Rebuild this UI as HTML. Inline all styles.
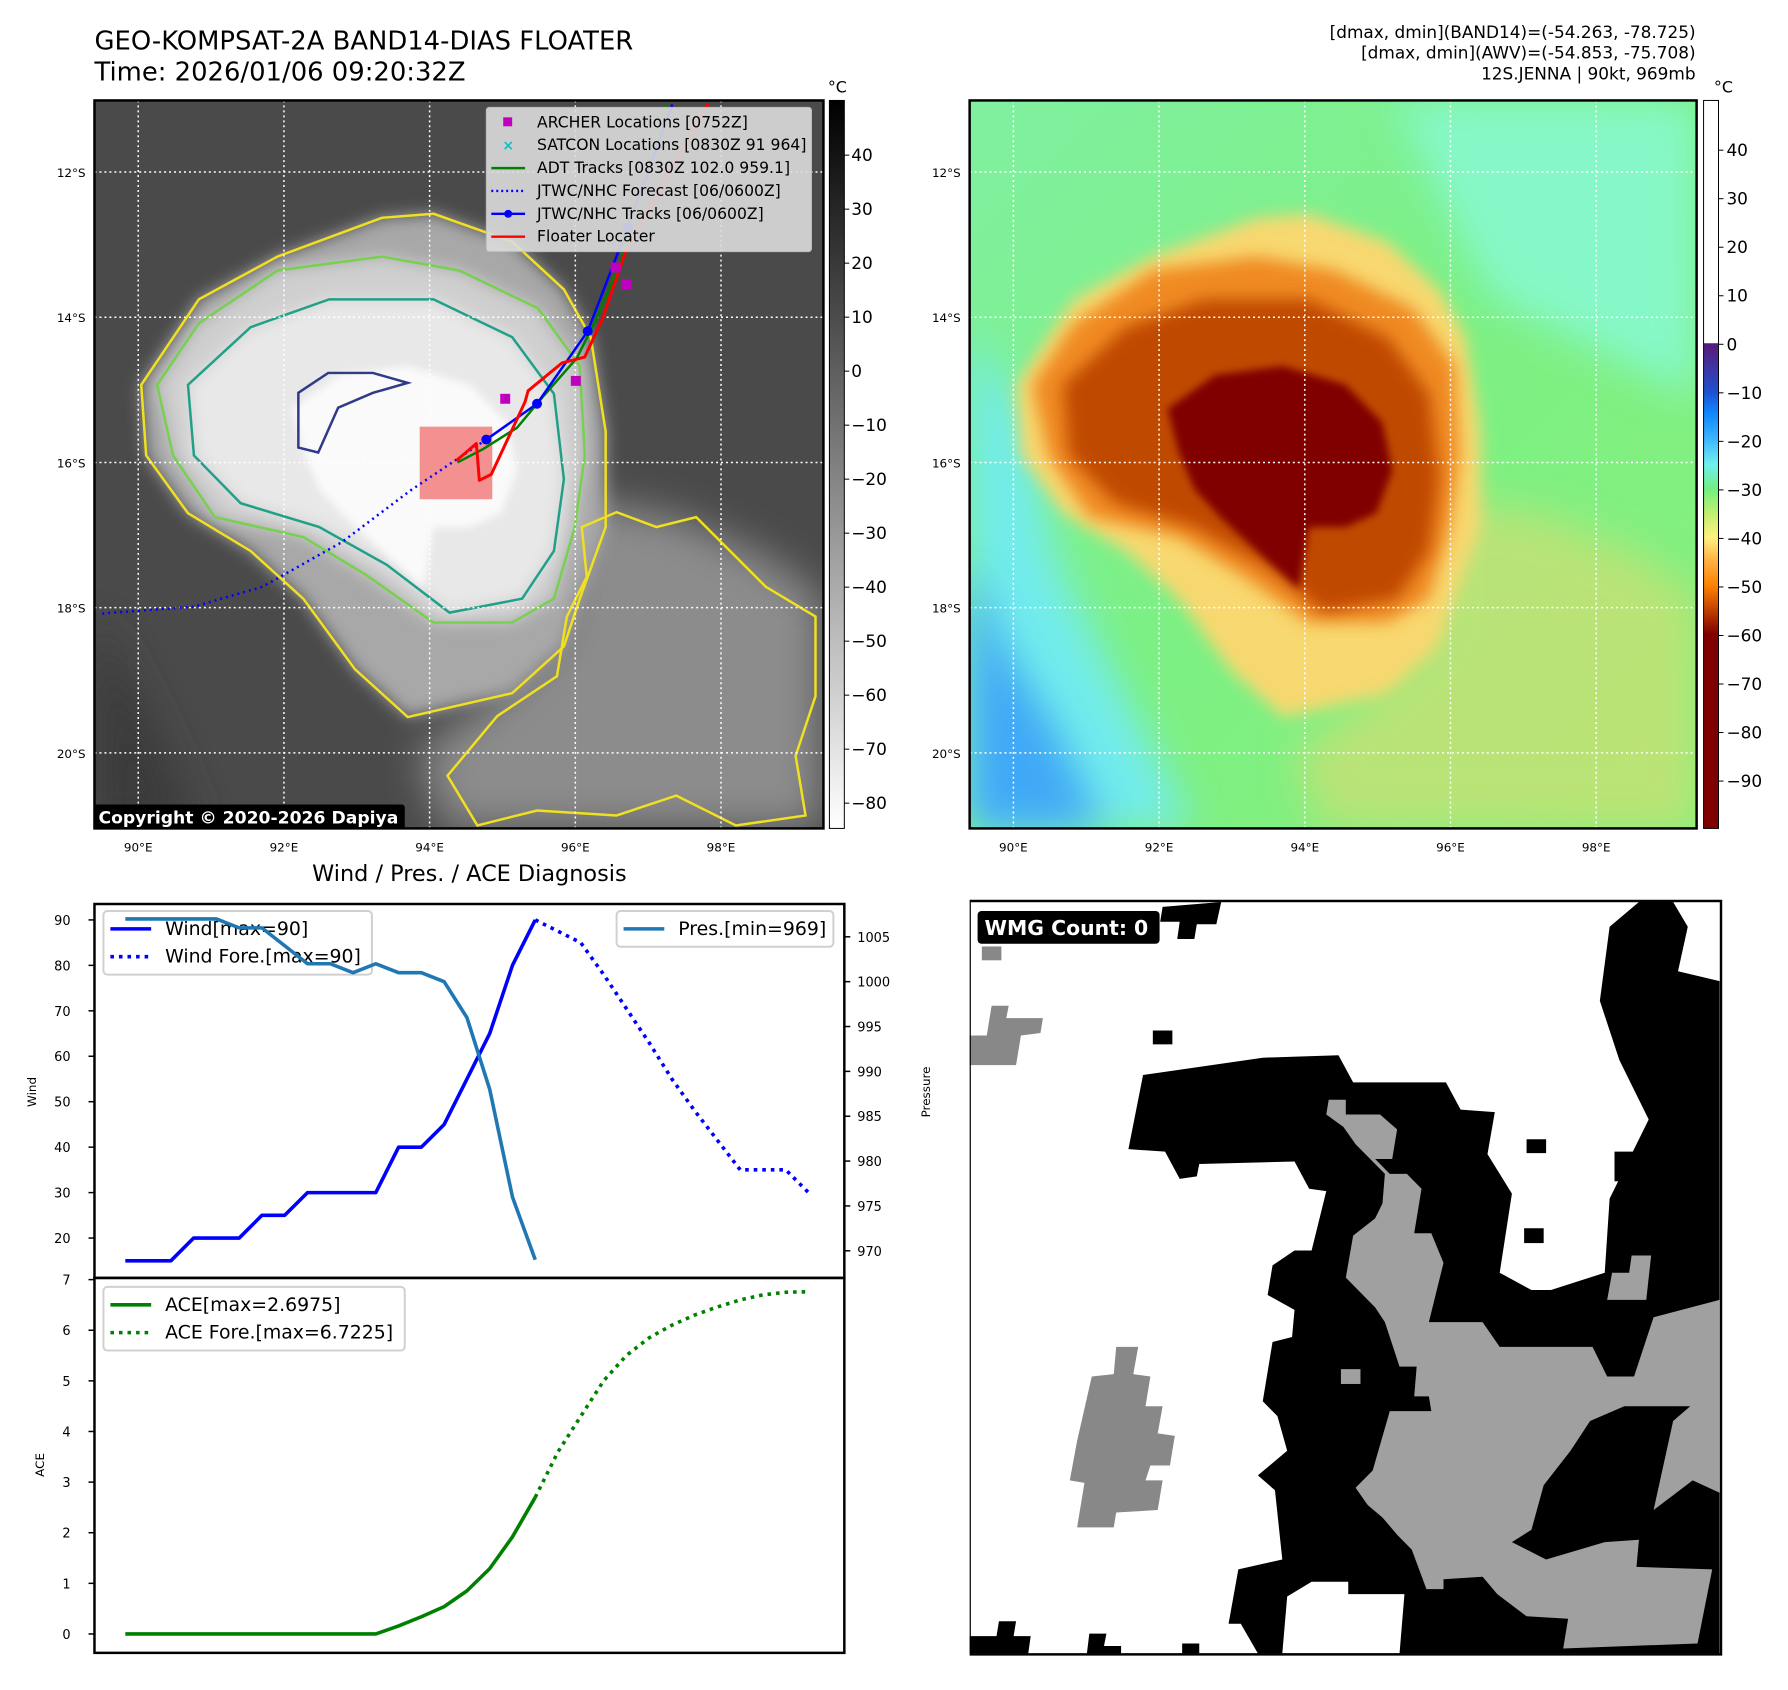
<!DOCTYPE html>
<html><head><meta charset="utf-8">
<style>
html,body{margin:0;padding:0;background:#fff;}
svg{display:block;font-family:"DejaVu Sans","Liberation Sans",sans-serif;}
</style></head>
<body>
<svg width="1788" height="1690" viewBox="0 0 1788 1690" xmlns="http://www.w3.org/2000/svg">
<defs>
  <filter id="blur8" x="-20%" y="-20%" width="140%" height="140%"><feGaussianBlur stdDeviation="8"/></filter>
  <filter id="blur4" x="-20%" y="-20%" width="140%" height="140%"><feGaussianBlur stdDeviation="4"/></filter>
  <filter id="blur20" x="-30%" y="-30%" width="160%" height="160%"><feGaussianBlur stdDeviation="20"/></filter>
  <clipPath id="clipL"><rect x="95" y="101" width="733" height="732"/></clipPath>
  <clipPath id="clipR"><rect x="975" y="101" width="731" height="732"/></clipPath>
  <linearGradient id="cbGray" x1="0" y1="0" x2="0" y2="1">
    <stop offset="0" stop-color="#000"/><stop offset="1" stop-color="#fff"/>
  </linearGradient>
  <linearGradient id="cbColor" x1="0" y1="0" x2="0" y2="1">
    <stop offset="0" stop-color="#ffffff"/>
    <stop offset="0.333" stop-color="#ffffff"/>
    <stop offset="0.334" stop-color="#5a1a78"/>
    <stop offset="0.40" stop-color="#2050d0"/>
    <stop offset="0.43" stop-color="#1088ff"/>
    <stop offset="0.467" stop-color="#40b8ff"/>
    <stop offset="0.50" stop-color="#70f0f0"/>
    <stop offset="0.533" stop-color="#70f080"/>
    <stop offset="0.567" stop-color="#c0f070"/>
    <stop offset="0.60" stop-color="#fff080"/>
    <stop offset="0.633" stop-color="#ffb040"/>
    <stop offset="0.667" stop-color="#ff8000"/>
    <stop offset="0.70" stop-color="#c04000"/>
    <stop offset="0.733" stop-color="#800000"/>
    <stop offset="1" stop-color="#800000"/>
  </linearGradient>
  <linearGradient id="bgR" x1="0" y1="0" x2="1" y2="1">
    <stop offset="0" stop-color="#80f0a0"/><stop offset="0.5" stop-color="#7cf084"/><stop offset="1" stop-color="#88f07c"/>
  </linearGradient>
</defs>
<g id="root" transform="scale(0.9945)">

<text x="95" y="50" font-size="26" fill="#000">GEO-KOMPSAT-2A BAND14-DIAS FLOATER</text>
<text x="95" y="81" font-size="26" fill="#000">Time: 2026/01/06 09:20:32Z</text>
<g font-size="17" text-anchor="end" fill="#000">
  <text x="1705" y="38">[dmax, dmin](BAND14)=(-54.263, -78.725)</text>
  <text x="1705" y="59">[dmax, dmin](AWV)=(-54.853, -75.708)</text>
  <text x="1705" y="80">12S.JENNA | 90kt, 969mb</text>
</g>

<g id="mapL" clip-path="url(#clipL)">
  <rect x="95" y="101" width="733" height="732" fill="#4a4a4a"/>
</g>
<rect x="95" y="101" width="733" height="732" fill="none" stroke="#000" stroke-width="2.5"/>
<rect x="834" y="101" width="15" height="732" fill="url(#cbGray)" stroke="#000" stroke-width="1"/>
<text x="842" y="93" font-size="16" text-anchor="middle">°C</text>
<g id="cbLticks" font-size="17"></g>

<g id="mapR" clip-path="url(#clipR)">
  <rect x="975" y="101" width="731" height="732" fill="url(#bgR)"/>
</g>
<rect x="975" y="101" width="731" height="732" fill="none" stroke="#000" stroke-width="2.5"/>
<rect x="1713" y="101" width="15" height="732" fill="url(#cbColor)" stroke="#000" stroke-width="1"/>
<text x="1733" y="93" font-size="16" text-anchor="middle">°C</text>
<g id="cbRticks" font-size="17"></g>

<text x="472" y="886" font-size="22.5" text-anchor="middle">Wind / Pres. / ACE Diagnosis</text>
<g id="chart"></g>

<g id="wmg">
 <svg x="975" y="902" width="757" height="766" viewBox="0 0 1541 1541" preserveAspectRatio="none">
  <rect x="0" y="8" width="1538" height="1524" fill="#fff"/>
  <polygon fill="#000" points="355,360 600,325 755,320 785,375 975,375 1005,430 1075,435 1060,520 1110,600 1085,760 1150,795 1190,795 1300,760 1310,610 1390,450 1330,330 1290,210 1310,60 1370,10 1440,10 1470,60 1450,150 1535,170 1535,1530 590,1530 555,1470 530,1470 550,1360 640,1340 625,1200 590,1170 650,1120 630,1050 600,1020 620,900 660,890 665,835 610,805 620,745 665,715 700,715 730,595 695,590 665,535 470,540 465,565 430,570 400,515 325,510"/>
  <polygon fill="#000" points="395,20 515,10 505,55 465,55 460,85 425,85 430,50 390,50"/>
  <rect x="1200" y="398" width="40" height="28" fill="#fff"/>
  <rect x="1140" y="490" width="40" height="28" fill="#000"/>
  <rect x="1320" y="515" width="45" height="60" fill="#000"/>
  <rect x="1135" y="670" width="40" height="30" fill="#000"/>
  <rect x="375" y="270" width="40" height="28" fill="#000"/>
  <polygon fill="#fff" points="650,1415 700,1385 775,1385 775,1410 890,1410 880,1530 640,1530"/>
  <polygon fill="#000" points="0,1495 55,1495 60,1465 95,1465 90,1495 125,1495 120,1530 0,1530"/>
  <polygon fill="#000" points="245,1490 280,1490 275,1515 310,1515 310,1530 240,1530"/>
  <rect x="435" y="1510" width="35" height="20" fill="#000"/>
  <polygon fill="#a0a0a0" points="735,410 770,410 770,440 840,440 875,470 865,530 830,530 860,560 895,560 925,590 910,680 945,680 970,740 940,860 975,860 1050,860 1085,910 1275,910 1305,970 1360,970 1400,850 1535,815 1535,1205 1480,1180 1440,1210 1400,1240 1440,1060 1475,1030 1340,1030 1270,1060 1230,1120 1175,1190 1150,1280 1110,1305 1180,1340 1300,1305 1370,1300 1365,1355 1520,1360 1490,1510 1215,1520 1225,1460 1140,1455 1080,1410 1050,1375 970,1380 970,1400 935,1400 905,1320 875,1290 845,1255 815,1230 790,1195 825,1160 860,1040 945,1040 940,1010 910,1010 915,950 880,950 850,860 830,830 800,800 770,770 785,685 830,650 845,620 850,560 790,500 765,465 730,440"/>
  <rect x="760" y="955" width="40" height="30" fill="#a0a0a0"/>
  <polygon fill="#a0a0a0" points="1355,725 1395,725 1385,815 1305,815 1315,760 1350,760"/>
  <polygon fill="#888" points="300,910 345,910 335,965 370,970 360,1030 395,1030 385,1085 420,1090 410,1150 370,1150 360,1180 395,1180 385,1240 300,1245 295,1275 220,1275 235,1185 205,1180 220,1100 250,970 295,965"/>
  <polygon fill="#888" points="0,280 35,280 45,220 80,220 75,245 150,245 145,275 105,280 95,340 0,340"/>
  <rect x="25" y="100" width="40" height="28" fill="#888"/>
  <rect x="0" y="8" width="1538" height="1524" fill="none" stroke="#000" stroke-width="5"/>
 </svg>
 <rect x="983" y="916" width="183" height="33" rx="4" fill="#000"/>
 <text x="990" y="940" font-size="20.5" font-weight="bold" fill="#fff">WMG Count: 0</text>
</g>
</g>
</svg>

<script>
// ===== Chart data =====
const windObs = [15,15,15,20,20,20,25,25,30,30,30,30,40,40,45,55,65,80,90];
const windFcst = [90,87.5,85,78,70.5,63,55,48,41.5,35,35,35,30];
const presObs = [1007,1007,1007,1007,1007,1006,1006,1004,1002,1002,1001,1002,1001,1001,1000,996,988,976,969];
const aceObs = [0,0,0,0,0,0,0,0,0,0,0,0,0.16,0.34,0.54,0.85,1.29,1.92,2.7];
const aceFcst = [2.7,3.6,4.3,5.0,5.5,5.85,6.1,6.3,6.46,6.6,6.7,6.75,6.76];
const windTicks = [20,30,40,50,60,70,80,90];
const presTicks = [970,975,980,985,990,995,1000,1005];
const aceTicks = [0,1,2,3,4,5,6,7];
const cbLTicks = [40,30,20,10,0,-10,-20,-30,-40,-50,-60,-70,-80];
const cbRTicks = [40,30,20,10,0,-10,-20,-30,-40,-50,-60,-70,-80,-90];
const latTicks = [12,14,16,18,20];
const lonTicks = [90,92,94,96,98];

const NS = 'http://www.w3.org/2000/svg';
function mk(parent, tag, attrs, text){
  const e = document.createElementNS(NS, tag);
  for (const k in attrs) e.setAttribute(k, attrs[k]);
  if (text !== undefined) e.textContent = text;
  parent.appendChild(e);
  return e;
}
const xI = i => 126 + i*22.9;
const yW = v => 925 + (90 - v)*4.57;
const yP = p => 942 + (1005 - p)*9.02;
const yA = v => 1643 - v*50.9;
const cbLy = v => 156 + (40 - v)*5.43;
const cbRy = v => 151 + (40 - v)*4.88;
const lonX = lon => 139 + (lon - 90)*73.25;
const latY = lat => 173 + (lat - 12)*73.0;

const chart = document.getElementById('chart');
let f1 = mk(chart,'rect',{x:95,y:909,width:754,height:376,fill:'none',stroke:'#000','stroke-width':2.5});


let f2 = mk(chart,'rect',{x:95,y:1285,width:754,height:377,fill:'none',stroke:'#000','stroke-width':2.5});



windTicks.forEach(v=>{
  const y=yW(v);
  mk(chart,'line',{x1:89,x2:95,y1:y,y2:y,stroke:'#000','stroke-width':1.5});
  const t=mk(chart,'text',{x:71,y:y+5,'font-size':13,'text-anchor':'end'},String(v));
  
  
});
presTicks.forEach(v=>{
  const y=yP(v);
  mk(chart,'line',{x1:849,x2:855,y1:y,y2:y,stroke:'#000','stroke-width':1.5});
  const t=mk(chart,'text',{x:862,y:y+5,'font-size':13},String(v));
  
  
});
aceTicks.forEach(v=>{
  const y=yA(v);
  mk(chart,'line',{x1:89,x2:95,y1:y,y2:y,stroke:'#000','stroke-width':1.5});
  const t=mk(chart,'text',{x:71,y:y+5,'font-size':13,'text-anchor':'end'},String(v));
  
  
});
let yl1=mk(chart,'text',{x:36,y:1098,'font-size':12,'text-anchor':'middle',transform:'rotate(-90 36 1098)'},'Wind');


let yl2=mk(chart,'text',{x:935,y:1098,'font-size':12,'text-anchor':'middle',transform:'rotate(-90 935 1098)'},'Pressure');


let yl3=mk(chart,'text',{x:44,y:1473,'font-size':12,'text-anchor':'middle',transform:'rotate(-90 44 1473)'},'ACE');



function series(arr, off, yf, color, dash, name){
  const pts = arr.map((v,i)=>xI(i+off).toFixed(1)+','+yf(v).toFixed(1)).join(' ');
  const a = {points:pts,fill:'none',stroke:color,'stroke-width':3.6,'stroke-linejoin':'round'};
  if (dash) a['stroke-dasharray']=dash;
  const p = mk(chart,'polyline',a);
  
  
}
function legend(x,y,w,h,items,name){
  const g=mk(chart,'g',{});
  
  
  mk(g,'rect',{x:x,y:y,width:w,height:h,rx:4,fill:'rgba(255,255,255,0.8)',stroke:'#d0d0d0','stroke-width':2});
  items.forEach((it,k)=>{
    const yy=y+18+k*28;
    const a={x1:x+7,x2:x+48,y1:yy,y2:yy,stroke:it.c,'stroke-width':3.6};
    if(it.d) a['stroke-dasharray']=it.d;
    mk(g,'line',a);
    mk(g,'text',{x:x+62,y:yy+6,'font-size':19},it.t);
  });
}
series(windObs,0,yW,'#0000ff',null,'wind-line');
series(windFcst,18,yW,'#0000ff','3.6 5','wind-forecast-line');
legend(104,916,270,64,[{c:'#0000ff',t:'Wind[max=90]'},{c:'#0000ff',d:'3.6 5',t:'Wind Fore.[max=90]'}],'wind-legend');
series(presObs,0,yP,'#1f77b4',null,'pressure-line');
legend(620,916,218,36,[{c:'#1f77b4',t:'Pres.[min=969]'}],'pressure-legend');
series(aceObs,0,yA,'#008000',null,'ace-line');
series(aceFcst,18,yA,'#008000','3.6 5','ace-forecast-line');
legend(104,1294,303,64,[{c:'#008000',t:'ACE[max=2.6975]'},{c:'#008000',d:'3.6 5',t:'ACE Fore.[max=6.7225]'}],'ace-legend');

const cbL=document.getElementById('cbLticks');
cbLTicks.forEach(v=>{const y=cbLy(v);
  mk(cbL,'line',{x1:849,x2:854,y1:y,y2:y,stroke:'#000'});
  mk(cbL,'text',{x:856,y:y+6},(v<0?'\u2212'+(-v):String(v)));});
const cbR=document.getElementById('cbRticks');
cbRTicks.forEach(v=>{const y=cbRy(v);
  mk(cbR,'line',{x1:1728,x2:1733,y1:y,y2:y,stroke:'#000'});
  mk(cbR,'text',{x:1736,y:y+6},(v<0?'\u2212'+(-v):String(v)));});

// ===== Map shapes =====
const outerShape=[[1022,387],[1080,301],[1159,258],[1264,219],[1316,215],[1395,243],[1447,291],[1474,339],[1489,434],[1489,530],[1463,602],[1447,650],[1395,697],[1290,721],[1237,673],[1185,602],[1132,554],[1069,516],[1027,458]];
const orangeShape=[[1038,387],[1080,325],[1159,272],[1264,258],[1342,272],[1421,310],[1463,368],[1468,458],[1458,530],[1437,602],[1395,626],[1316,626],[1248,578],[1185,540],[1096,520],[1054,458]];
const dorangeShape=[[1069,387],[1132,329],[1211,301],[1316,301],[1395,339],[1437,396],[1447,482],[1437,554],[1405,602],[1332,616],[1269,568],[1201,530],[1122,506],[1075,458]];
const coreShape=[[1174,411],[1222,377],[1290,368],[1353,387],[1390,425],[1400,473],[1384,516],[1353,530],[1316,530],[1306,592],[1269,559],[1227,520],[1201,492],[1185,454]];
const rainShape=[[1450,500],[1560,520],[1650,560],[1706,600],[1706,833],[1330,833],[1300,760],[1380,700],[1440,640]];
const blueShape=[[975,560],[1010,650],[1060,730],[1110,833],[975,833]];
const cyanShape=[[975,330],[1030,420],[1060,560],[1120,680],[1200,833],[975,833]];
const rainContour=[[1465,530],[1500,515],[1540,530],[1580,520],[1620,560],[1650,590],[1700,620],[1700,700],[1680,760],[1690,820],[1620,830],[1560,800],[1500,820],[1420,815],[1360,830],[1330,780],[1380,720],[1440,680],[1450,620],[1470,580]];

function pstr(pts,dx){return pts.map(p=>(p[0]+dx)+','+p[1]).join(' ');}
const mapR=document.getElementById('mapR');
function poly(par,pts,dx,attrs,name){const a=Object.assign({points:pstr(pts,dx)},attrs);const p=mk(par,'polygon',a);return p;}
poly(mapR,[[1400,101],[1706,101],[1706,400],[1500,300]],0,{fill:'#86f8c8',filter:'url(#blur20)'},'cool-region');
poly(mapR,cyanShape,0,{fill:'#72ecec',filter:'url(#blur20)'},'cyan-region');
poly(mapR,blueShape,0,{fill:'#40a8f6',filter:'url(#blur20)'},'blue-region');
poly(mapR,rainShape,0,{fill:'#f0d870',opacity:0.5,filter:'url(#blur20)'},'rainband-region');
poly(mapR,outerShape,0,{fill:'#f8d870',filter:'url(#blur8)'},'outer-cloud');
poly(mapR,orangeShape,0,{fill:'#f08a20',filter:'url(#blur8)'},'orange-cloud');
poly(mapR,dorangeShape,0,{fill:'#c04800',filter:'url(#blur8)'},'deep-convection');
poly(mapR,coreShape,0,{fill:'#800000',filter:'url(#blur4)'},'cold-core');

const mapL=document.getElementById('mapL');
poly(mapL,[[95,620],[150,720],[200,833],[95,833]],0,{fill:'#3a3a3a',filter:'url(#blur20)'},'dark-region');
poly(mapL,rainShape,-880,{fill:'#8c8c8c',filter:'url(#blur20)'},'rainband-cloud');
poly(mapL,outerShape,-880,{fill:'#a8a8a8',filter:'url(#blur8)'},'outer-cloud-gray');
poly(mapL,orangeShape,-880,{fill:'#cfcfcf',filter:'url(#blur8)'},'mid-cloud-gray');
poly(mapL,dorangeShape,-880,{fill:'#e8e8e8',filter:'url(#blur8)'},'inner-cloud-gray');
poly(mapL,coreShape,-880,{fill:'#fafafa',filter:'url(#blur4)'},'core-gray');
poly(mapL,rainContour,-880,{fill:'none',stroke:'#f0e020','stroke-width':2.5},'contour-rainband');
poly(mapL,outerShape,-880,{fill:'none',stroke:'#f0e020','stroke-width':2.5},'contour-yellow');
poly(mapL,orangeShape,-880,{fill:'none',stroke:'#78d050','stroke-width':2.5},'contour-green');
poly(mapL,dorangeShape,-880,{fill:'none',stroke:'#20a088','stroke-width':2.5},'contour-teal');
poly(mapL,[[300,395],[330,375],[375,375],[410,385],[375,395],[340,410],[320,455],[300,450]],0,{fill:'none',stroke:'#303a88','stroke-width':2.5},'contour-navy');

[[mapL,0],[mapR,880]].forEach(([g,dx])=>{
  lonTicks.forEach(l=>{const x=lonX(l)+dx;mk(g,'line',{x1:x,x2:x,y1:101,y2:833,stroke:'#fff','stroke-width':1.5,'stroke-dasharray':'2 3'});});
  latTicks.forEach(l=>{const y=latY(l);mk(g,'line',{x1:95+dx,x2:828+dx,y1:y,y2:y,stroke:'#fff','stroke-width':1.5,'stroke-dasharray':'2 3'});});
});
const root=document.getElementById('root');
[[0,86],[880,966]].forEach(([dx,lx])=>{
  lonTicks.forEach(l=>{const t=mk(root,'text',{x:lonX(l)+dx,y:856,'font-size':12,'text-anchor':'middle'},l+'°E');
    
    });
  latTicks.forEach(l=>{const t=mk(root,'text',{x:lx,y:latY(l)+5,'font-size':12,'text-anchor':'end'},l+'°S');
    
    });
});

const fcstTrack=[[489,442],[413,493],[344,545],[264,590],[195,610],[101,617]];
const jtwcTrack=[[489,442],[540,406],[591,333],[631,229],[676,105]];
const adtTrack=[[460,465],[485,452],[520,430],[545,400],[580,360],[600,320],[625,260],[670,105]];
const floaterTrack=[[459,463],[479,446],[482,483],[494,477],[528,404],[531,393],[565,365],[588,359],[606,320],[629,253],[712,104]];
const archerPts=[[508,401],[579,383],[619,269],[630,286]];
const rectF=mk(mapL,'rect',{x:422,y:429,width:73,height:73,fill:'rgba(240,110,110,0.75)'});


function track(pts,color,w,dash,name){const a={points:pts.map(p=>p.join(',')).join(' '),fill:'none',stroke:color,'stroke-width':w,'stroke-linejoin':'round'};if(dash)a['stroke-dasharray']=dash;const p=mk(mapL,'polyline',a);}
track(fcstTrack,'#0000ff',2.5,'2 4','jtwc-forecast-track');
track(adtTrack,'#008000',2.5,null,'adt-track');
track(jtwcTrack,'#0000ff',2.5,null,'jtwc-track');
track(floaterTrack,'#ff0000',3,null,'floater-track');
jtwcTrack.slice(0,4).forEach(p=>{const c=mk(mapL,'circle',{cx:p[0],cy:p[1],r:5,fill:'#0000ff'});});
archerPts.forEach(p=>{const r=mk(mapL,'rect',{x:p[0]-5,y:p[1]-5,width:10,height:10,fill:'#c000c0'});});

const lg=mk(root,'g',{});


mk(lg,'rect',{x:489,y:108,width:327,height:145,rx:3,fill:'rgba(220,220,220,0.9)',stroke:'#bbb'});
const labs=['ARCHER Locations [0752Z]','SATCON Locations [0830Z 91 964]','ADT Tracks [0830Z 102.0 959.1]','JTWC/NHC Forecast [06/0600Z]','JTWC/NHC Tracks [06/0600Z]','Floater Locater'];
labs.forEach((s,k)=>{const y=123+k*23;
  if(k===0) mk(lg,'rect',{x:506,y:y-5,width:9,height:9,fill:'#c000c0'});
  if(k===1) mk(lg,'text',{x:511,y:y+5,'font-size':14,'text-anchor':'middle',fill:'#10c0c0','font-weight':'bold'},'\u00d7');
  if(k===2) mk(lg,'line',{x1:494,x2:528,y1:y,y2:y,stroke:'#008000','stroke-width':2.5});
  if(k===3) mk(lg,'line',{x1:494,x2:528,y1:y,y2:y,stroke:'#0000ff','stroke-width':2.5,'stroke-dasharray':'2 3'});
  if(k===4){mk(lg,'line',{x1:494,x2:528,y1:y,y2:y,stroke:'#0000ff','stroke-width':2.5});mk(lg,'circle',{cx:511,cy:y,r:4,fill:'#0000ff'});}
  if(k===5) mk(lg,'line',{x1:494,x2:528,y1:y,y2:y,stroke:'#ff0000','stroke-width':2.5});
  mk(lg,'text',{x:540,y:y+5,'font-size':15.7},s);
});
const cg=mk(root,'g',{});


mk(cg,'rect',{x:94,y:809,width:313,height:25,rx:3,fill:'#000'});
mk(cg,'text',{x:99,y:828,'font-size':17.3,'font-weight':'bold',fill:'#fff'},'Copyright \u00a9 2020-2026 Dapiya');
</script>
</body></html>
